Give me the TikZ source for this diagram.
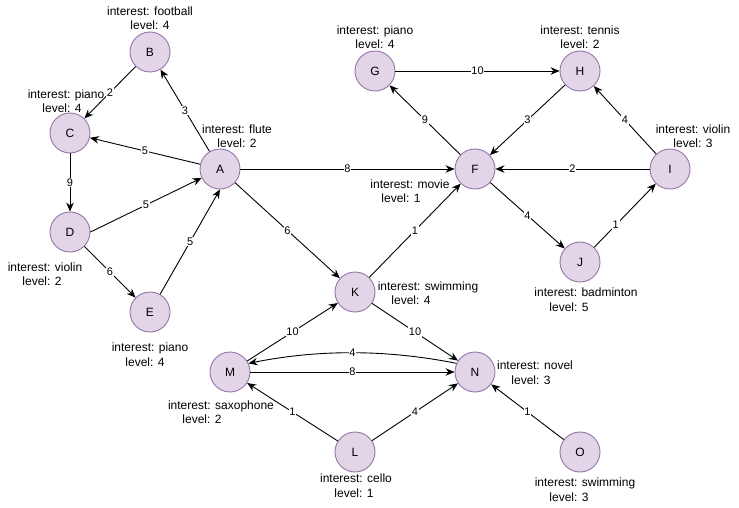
\documentclass[tikz,border=0pt]{standalone}
\usepackage{fontspec}
\setmainfont{Liberation Sans}
\usetikzlibrary{arrows.meta}
\definecolor{nfill}{HTML}{E1D5E7}
\definecolor{ndraw}{HTML}{9673A6}
\tikzset{
  vtx/.style={circle, draw=ndraw, fill=nfill, line width=0.9pt, minimum size=40pt, inner sep=0pt, font=\fontsize{12}{14}\selectfont},
  lab/.style={align=center, inner sep=0pt, font=\fontsize{12}{14.5}\selectfont},
  arr/.style={line width=0.9pt, -{Stealth[length=9pt,width=7.5pt]}},
  w/.style={fill=white, inner sep=0.8pt, font=\fontsize{11}{12}\selectfont}
}
\begin{document}
\begin{tikzpicture}[x=1pt,y=-1pt]
\useasboundingbox (0,0) rectangle (739,508);
% nodes
\node[vtx] (A) at (220,169) {A};
\node[vtx] (B) at (150,52) {B};
\node[vtx] (C) at (70,133) {C};
\node[vtx] (D) at (70,232) {D};
\node[vtx] (E) at (150,312) {E};
\node[vtx] (F) at (475,169) {F};
\node[vtx] (G) at (375,71) {G};
\node[vtx] (H) at (580,71) {H};
\node[vtx] (I) at (670,169) {I};
\node[vtx] (J) at (580,262) {J};
\node[vtx] (K) at (355,292) {K};
\node[vtx] (L) at (355,452) {L};
\node[vtx] (M) at (230,372) {M};
\node[vtx] (N) at (475,372) {N};
\node[vtx] (O) at (580,452) {O};
% info labels
\node[lab] (Al) at (237,136) {interest: flute\\level: 2};
\node[lab] (Bl) at (150,18) {interest: football\\level: 4};
\node[lab] (Cl) at (66,101) {interest: piano\\level: 4\kern8pt};
\node[lab] (Dl) at (45,274) {interest: violin\\level: 2\kern6pt};
\node[lab] (El) at (150,354.5) {interest: piano\\level: 4\kern10pt};
\node[lab] (Fl) at (410,191) {interest: movie\\level: 1\kern18pt};
\node[lab] (Gl) at (375,37) {interest: piano\\level: 4};
\node[lab] (Hl) at (580,37) {interest: tennis\\level: 2};
\node[lab] (Il) at (693,136) {interest: violin\\level: 3};
\node[lab] (Jl) at (586,299.5) {interest: badminton\\level: 5\kern34pt};
\node[lab] (Kl) at (428,293) {interest: swimming\\level: 4\kern34pt};
\node[lab] (Ll) at (356,485.5) {interest: cello\\level: 1\kern4pt};
\node[lab] (Ml) at (221,412) {interest: saxophone\\level: 2\kern38pt};
\node[lab] (Nl) at (535,372.5) {interest: novel\\level: 3\kern8pt};
\node[lab] (Ol) at (585,489.5) {interest: swimming\\level: 3\kern32pt};
% edges
\draw[arr] (B) -- node[w]{2} (C);
\draw[arr] (A) -- node[w]{3} (B);
\draw[arr] (A) -- node[w]{5} (C);
\draw[arr] (C) -- node[w]{9} (D);
\draw[arr] (D.east) -- node[w]{5} (A);
\draw[arr] (D) -- node[w]{6} (E);
\draw[arr] (E) -- node[w]{5} (A.south);
\draw[arr] (A) -- node[w]{6} (K);
\draw[arr] (A) -- node[w]{8} (F);
\draw[arr] (F) -- node[w]{9} (G);
\draw[arr] (G) -- node[w]{10} (H);
\draw[arr] (H) -- node[w]{3} (F);
\draw[arr] (I) -- node[w]{4} (H);
\draw[arr] (I) -- node[w]{2} (F);
\draw[arr] (F) -- node[w]{4} (J);
\draw[arr] (J) -- node[w,pos=0.35]{1} (I);
\draw[arr] (K) -- node[w]{1} (F);
\draw[arr] (M) -- node[w]{10} (K);
\draw[arr] (K) -- node[w]{10} (N);
\draw[arr] (M) -- node[w]{8} (N);
\draw[arr] (N.155) .. controls ([shift={(-70,-14)}]N.155) and ([shift={(70,-14)}]M.25) .. node[w]{4} (M.25);
\draw[arr] (L) -- node[w]{1} (M);
\draw[arr] (L) -- node[w]{4} (N);
\draw[arr] (O) -- node[w]{1} (N);
\end{tikzpicture}
\end{document}
